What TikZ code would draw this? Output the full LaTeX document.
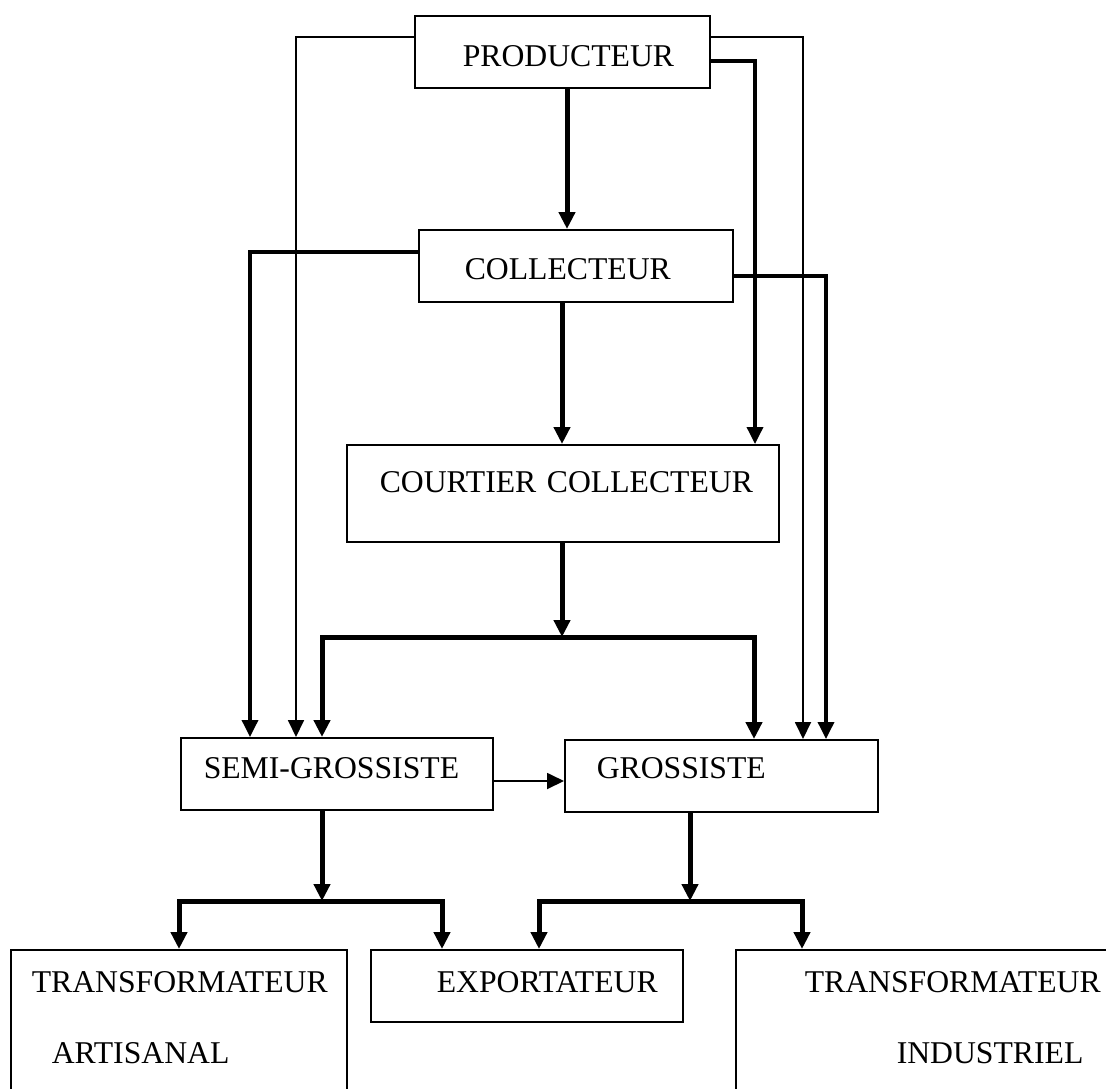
\documentclass[tikz,border=0pt]{standalone}
\usepackage{fontspec}
\setmainfont{Liberation Serif}
\usetikzlibrary{arrows.meta}

\tikzset{
  box/.style={draw, line width=1.5pt, anchor=north west, inner sep=0pt, align=left,
    font=\fontsize{31.7pt}{71pt}\selectfont},
  thinline/.style={line width=1.8pt, ->},
  medline/.style={line width=3.5pt, ->},
  thickline/.style={line width=5pt, ->},
}

\begin{document}
\begin{tikzpicture}[x=1pt,y=-1pt,>={Triangle[width=16pt,length=17pt]}]
\useasboundingbox (0,0) rectangle (1106,1088);
\clip (0,0) rectangle (1106,1088);
% boxes
\node[box, text width=295pt, text height=51pt, text depth=21pt] (prod) at (414,15) {\hspace*{48pt}PRODUCTEUR};
\node[box, text width=314pt, text height=50pt, text depth=22pt] (coll) at (418,229) {\hspace*{46pt}COLLECTEUR};
\node[box, text width=432pt, text height=48pt, text depth=49pt] (court) at (346,444) {\hspace*{33pt}COURTIER COLLECTEUR};
\node[box, text width=312pt, text height=41pt, text depth=31pt] (semi) at (180,737) {\hspace*{23pt}SEMI-GROSSISTE};
\node[box, text width=313pt, text height=39pt, text depth=33pt] (gros) at (564,739) {\hspace*{32pt}GROSSISTE};
\node[box, text width=336pt, text height=43pt, text depth=117pt] (ta) at (10,949) {\hspace*{21pt}TRANSFORMATEUR\\\hspace*{41pt}ARTISANAL};
\node[box, text width=312pt, text height=43pt, text depth=29pt] (expo) at (370,949) {\hspace*{66pt}EXPORTATEUR};
\node[box, text width=380pt, text height=43pt, text depth=117pt] (ti) at (735,949) {\hspace*{69pt}TRANSFORMATEUR\\\hspace*{161pt}INDUSTRIEL};
\coordinate (split1) at (562,637);
\coordinate (split2) at (322,901);
\coordinate (split3) at (690,901);
% from producteur
\draw[thickline] (prod.south -| 567,0) -- (coll.north -| 567,0);
\draw[thinline] (prod.west |- 0,37) -| (semi.north -| 296,0);
\draw[thinline] (prod.east |- 0,37) -| (gros.north -| 803,0);
\draw[medline] (prod.east |- 0,61) -| (court.north -| 755,0);
% from collecteur
\draw[thickline] (coll.south -| 562,0) -- (court.north -| 562,0);
\draw[medline] (coll.west |- 0,252) -| (semi.north -| 250,0);
\draw[medline] (coll.east |- 0,276) -| (gros.north -| 826,0);
% courtier
\draw[thickline] (court.south -| split1) -- (split1);
\draw[thickline] (split1) -| (semi.north -| 322,0);
\draw[thickline] (split1) -| (gros.north -| 754,0);
\draw[thinline] (semi.east |- 0,781) -- (gros.west |- 0,781);
% to the end buyers
\draw[thickline] (semi.south -| split2) -- (split2);
\draw[thickline] (split2) -| (ta.north -| 179,0);
\draw[thickline] (split2) -| (expo.north -| 442,0);
\draw[thickline] (gros.south -| split3) -- (split3);
\draw[thickline] (split3) -| (expo.north -| 539,0);
\draw[thickline] (split3) -| (ti.north -| 802,0);
\end{tikzpicture}
\end{document}
